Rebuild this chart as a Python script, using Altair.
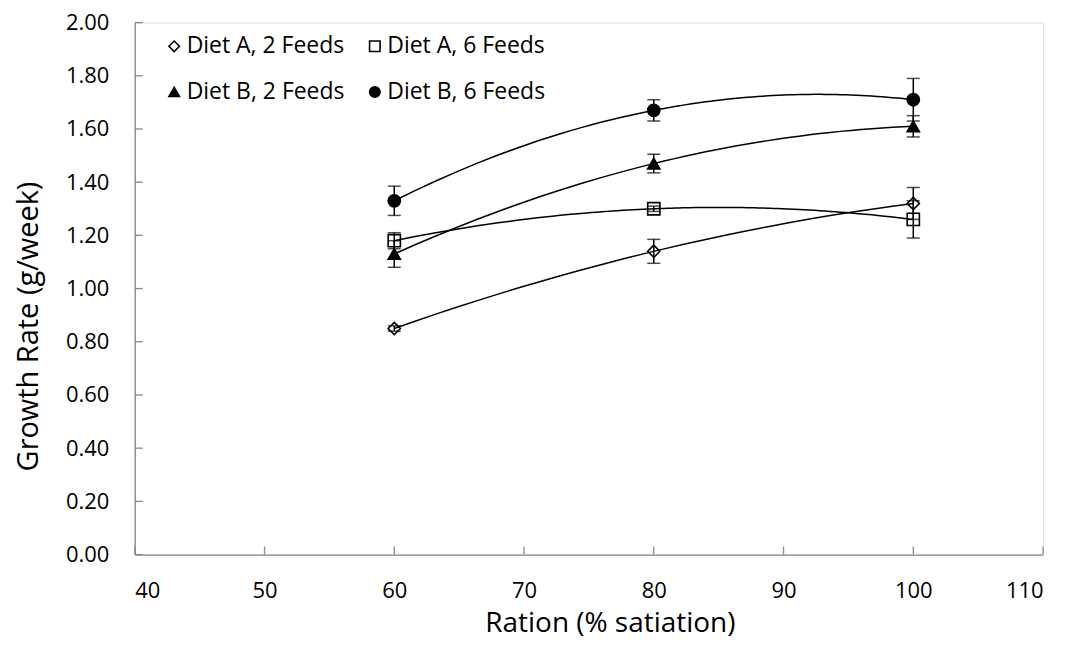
import altair as alt
import pandas as pd

ration = [60, 80, 100]
series_names = ["Diet A, 2 Feeds", "Diet A, 6 Feeds", "Diet B, 2 Feeds", "Diet B, 6 Feeds"]

diet_a_2 = [0.85, 1.14, 1.32]
diet_a_2_err = [0.01, 0.045, 0.06]
diet_a_6 = [1.18, 1.30, 1.26]
diet_a_6_err = [0.03, 0.01, 0.07]
diet_b_2 = [1.13, 1.47, 1.61]
diet_b_2_err = [0.05, 0.035, 0.04]
diet_b_6 = [1.33, 1.67, 1.71]
diet_b_6_err = [0.055, 0.04, 0.08]

x_ticks = [40, 50, 60, 70, 80, 90, 100, 110]
y_ticks = [0.0, 0.2, 0.4, 0.6, 0.8, 1.0, 1.2, 1.4, 1.6, 1.8, 2.0]

shapes = ["diamond", "square", "triangle-up", "circle"]
fills = ["white", "white", "black", "black"]
strokes = ["black", "black", "black", "black"]

rows = []
for name, vals, errs in zip(series_names,
                            [diet_a_2, diet_a_6, diet_b_2, diet_b_6],
                            [diet_a_2_err, diet_a_6_err, diet_b_2_err, diet_b_6_err]):
    for r, v, e in zip(ration, vals, errs):
        rows.append({"series": name, "ration": r, "growth": v, "lo": v - e, "hi": v + e})
df = pd.DataFrame(rows)

W, H = 910, 533
FONT = "Open Sans"
GREY = "#898989"

x_scale = alt.Scale(domain=[40, 110], nice=False, zero=False)
y_scale = alt.Scale(domain=[0, 2], nice=False)

x_axis = alt.Axis(values=x_ticks, title="Ration (% satiation)", ticks=False, tickSize=0,
                  grid=False, labelFontSize=22, titleFontSize=28, labelPadding=26,
                  titleX=476, titleY=69, titleBaseline="middle", titleAlign="center",
                  titleFontWeight="normal", labelColor="black",
                  titleColor="black", domainColor=GREY, domainWidth=1.3, labelFont=FONT,
                  titleFont=FONT)
y_axis = alt.Axis(values=y_ticks, format=".2f", title="Growth Rate (g/week)", ticks=False,
                  tickSize=0, grid=False, labelFontSize=22, titleFontSize=29, labelPadding=26,
                  titleX=-106, titleY=304, titleBaseline="middle", titleAlign="center",
                  titleAngle=270,
                  titleFontWeight="normal", labelColor="black",
                  titleColor="black", domainColor=GREY, domainWidth=1.3, labelFont=FONT,
                  titleFont=FONT)

legend = alt.Legend(title=None, orient="none", legendX=28, legendY=12,
                    columns=2, direction="horizontal",
                    labelFontSize=23, labelFont=FONT, labelColor="black",
                    symbolSize=110, symbolStrokeWidth=1.6,
                    labelOffset=1, columnPadding=18, rowPadding=22, padding=0)

base = alt.Chart(df)

points = base.mark_point(strokeWidth=1.6, opacity=1, size=150).encode(
    x=alt.X("ration:Q", scale=x_scale, axis=x_axis),
    y=alt.Y("growth:Q", scale=y_scale, axis=y_axis),
    shape=alt.Shape("series:N", scale=alt.Scale(domain=series_names, range=shapes),
                    legend=legend),
    fill=alt.Fill("series:N", scale=alt.Scale(domain=series_names, range=fills),
                  legend=legend),
    stroke=alt.Stroke("series:N", scale=alt.Scale(domain=series_names, range=strokes),
                      legend=legend),
)

err_rule = base.mark_rule(color="black", strokeWidth=1.5).encode(
    x=alt.X("ration:Q", scale=x_scale), y=alt.Y("lo:Q", scale=y_scale), y2="hi:Q")
cap_lo = base.mark_tick(color="black", orient="horizontal", size=13, thickness=1.5).encode(
    x=alt.X("ration:Q", scale=x_scale), y=alt.Y("lo:Q", scale=y_scale))
cap_hi = base.mark_tick(color="black", orient="horizontal", size=13, thickness=1.5).encode(
    x=alt.X("ration:Q", scale=x_scale), y=alt.Y("hi:Q", scale=y_scale))

trend = base.transform_regression(
    "ration", "growth", groupby=["series"], method="poly", order=2, extent=[60, 100]
).mark_line(color="black", strokeWidth=1.5).encode(
    x=alt.X("ration:Q", scale=x_scale), y=alt.Y("growth:Q", scale=y_scale),
    detail="series:N")

ytick_df = pd.DataFrame({"v": y_ticks})
xtick_df = pd.DataFrame({"v": x_ticks})
ytick_marks = alt.Chart(ytick_df).mark_rule(color=GREY, strokeWidth=1.3).encode(
    y=alt.Y("v:Q", scale=y_scale), x=alt.value(0), x2=alt.value(8))
xtick_marks = alt.Chart(xtick_df).mark_rule(color=GREY, strokeWidth=1.3).encode(
    x=alt.X("v:Q", scale=x_scale), y=alt.value(H), y2=alt.value(H - 8))

chart = alt.layer(ytick_marks, xtick_marks, points, err_rule, cap_lo, cap_hi, trend).properties(
    width=W, height=H,
    autosize=alt.AutoSizeParams(type="none"),
    padding={"left": 127, "top": 14, "right": 20, "bottom": 90},
).configure_view(stroke=None).configure(background="white")

chart.save("out.html", embed_options={"renderer": "svg", "actions": False})
